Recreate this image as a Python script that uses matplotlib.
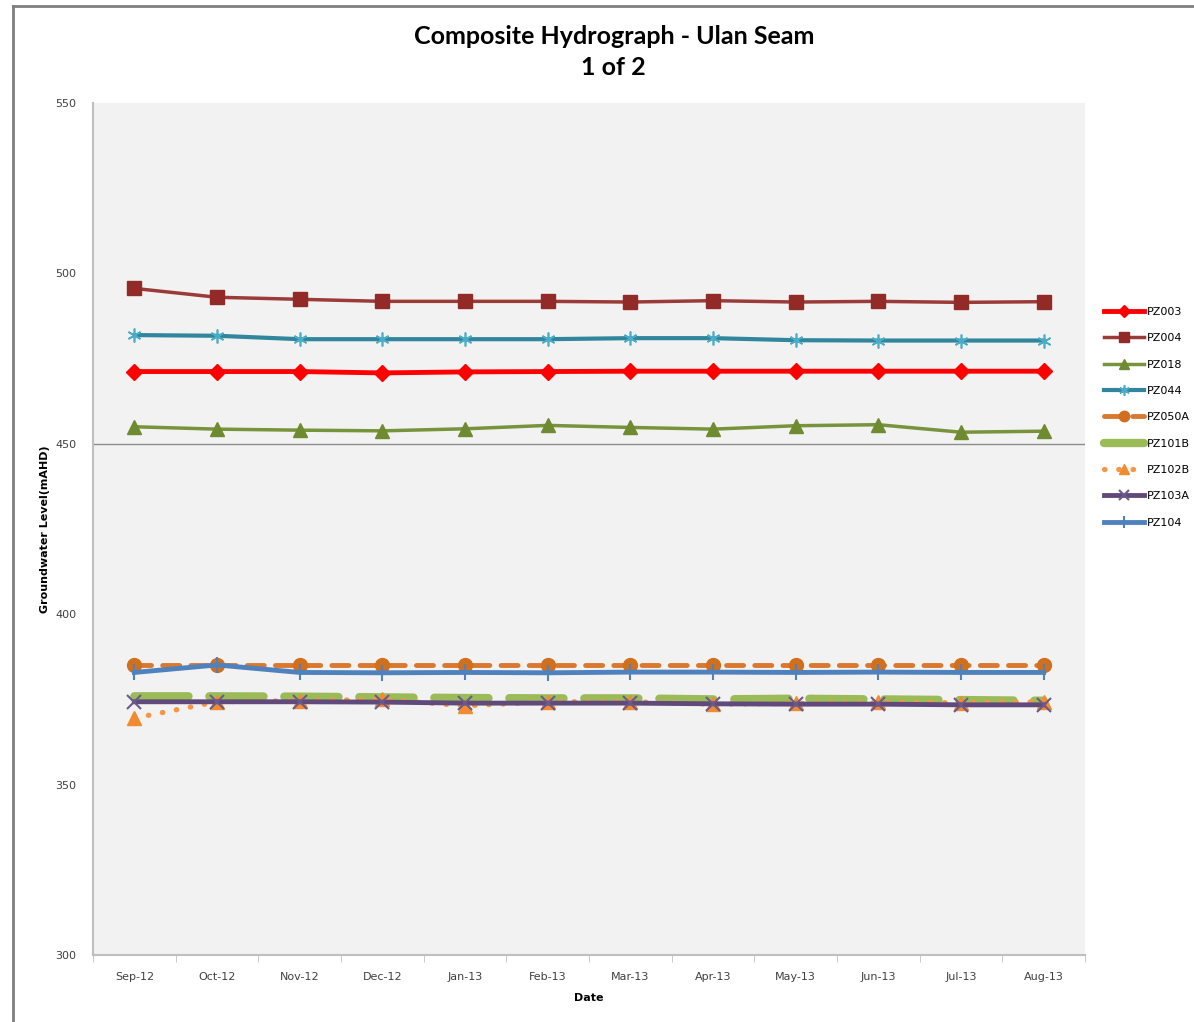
import matplotlib
matplotlib.use("Agg")
from matplotlib import pyplot as plt
from matplotlib.lines import Line2D
import numpy as np

# data
months = ["Sep-12", "Oct-12", "Nov-12", "Dec-12", "Jan-13", "Feb-13",
          "Mar-13", "Apr-13", "May-13", "Jun-13", "Jul-13", "Aug-13"]

pz003 = [471.2, 471.2, 471.2, 470.8, 471.1, 471.2, 471.3, 471.3, 471.3, 471.3, 471.3, 471.3]
pz004 = [495.6, 493.0, 492.4, 491.8, 491.8, 491.8, 491.6, 492.0, 491.6, 491.8, 491.5, 491.7]
pz018 = [455.0, 454.3, 454.0, 453.8, 454.4, 455.4, 454.8, 454.3, 455.3, 455.6, 453.4, 453.7]
pz044 = [481.9, 481.7, 480.7, 480.7, 480.7, 480.7, 481.0, 481.0, 480.4, 480.3, 480.3, 480.3]
pz050a = [385.1, 385.1, 385.1, 385.1, 385.1, 385.1, 385.1, 385.1, 385.1, 385.1, 385.1, 385.1]
pz101b = [375.9, 375.9, 375.8, 375.6, 375.4, 375.3, 375.3, 375.0, 375.2, 375.0, 374.8, 374.6]
pz102b = [369.5, 374.3, 374.6, 375.0, 373.1, 374.3, 374.3, 373.6, 373.8, 374.1, 374.0, 374.3]
pz103a = [374.3, 374.3, 374.3, 374.2, 373.9, 373.9, 373.9, 373.7, 373.6, 373.6, 373.4, 373.4]
pz104 = [382.9, 385.1, 382.9, 382.8, 382.9, 382.8, 383.0, 383.0, 382.9, 383.0, 382.9, 382.9]

y_ticks = [300, 350, 400, 450, 500, 550]

fig = plt.figure(figsize=(11.94, 10.22), dpi=100)
ax = fig.add_axes([0.0779, 0.0656, 0.8308, 0.8336])
ax.set_facecolor("#F2F2F2")

x = np.arange(len(months))

ax.axhline(450, color="#8C8C8C", lw=1.0, zorder=1)

ax.plot(x, pz003, color="#FF0000", lw=3.5, marker="D", ms=8, mec="#FF0000", label="PZ003", zorder=3)
ax.plot(x, pz004, color="#9B3B38", lw=2.5, marker="s", ms=10, mfc="#922B27", mec="#922B27", label="PZ004", zorder=3)
ax.plot(x, pz018, color="#77933C", lw=2.5, marker="^", ms=10, mfc="#6E8B32", mec="#6E8B32", label="PZ018", zorder=3)
ax.plot(x, pz044, color="#31859C", lw=3, marker=(6, 2, 0), ms=10, mew=1.2, mec="#4BACC6", label="PZ044", zorder=3)
ax.plot(x, pz050a, color="#D9782E", lw=3.5, ls=(0, (3.5, 2.3)), dash_capstyle="round",
        marker="o", ms=10, mfc="#D0701F", mec="#D0701F", label="PZ050A", zorder=3)
ax.plot(x, pz101b, color="#9BBB59", lw=6, ls=(0, (6.5, 2.5)), dash_capstyle="round",
        label="PZ101B", zorder=3)
ax.plot(x, pz102b, color="#F79646", lw=3.8, ls=(0, (0.1, 2.6)), dash_capstyle="round",
        marker="^", ms=10, mfc="#F28A2F", mec="#F28A2F", label="PZ102B", zorder=3)
ax.plot(x, pz103a, color="#604A7B", lw=3.5, marker="x", ms=10, mew=1.5, mec="#6A5A8C", label="PZ103A", zorder=3)
ax.plot(x, pz104, color="#4F81BD", lw=3.5, marker="|", ms=11, mew=1.5, mec="#4F81BD", label="PZ104", zorder=3)

ax.set_xlim(-0.5, len(months) - 0.5)
ax.set_ylim(300, 550)
ax.set_yticks(y_ticks)
ax.set_xticks(x)
ax.set_xticklabels(months)
ax.set_xticks(np.arange(-0.5, len(months)), minor=True)
ax.tick_params(axis="x", which="major", length=0, pad=12, labelsize=8, labelcolor="#404040")
ax.tick_params(axis="x", which="minor", length=5, color="#BFBFBF", direction="out")
ax.tick_params(axis="y", length=0, pad=12, labelsize=8, labelcolor="#404040")

for side in ["top", "right"]:
    ax.spines[side].set_visible(False)
for side in ["left", "bottom"]:
    ax.spines[side].set_color("#BFBFBF")
    ax.spines[side].set_linewidth(1.5)

ax.set_xlabel("Date", fontsize=8, fontweight="bold", labelpad=8)
ax.set_ylabel("Groundwater Level(mAHD)", fontsize=8, fontweight="bold", labelpad=4)

fig.text(0.514, 0.976, "Composite Hydrograph - Ulan Seam\n1 of 2", ha="center", va="top",
         fontsize=18, fontweight="bold", family="Lato", linespacing=1.45)

fig.legend(loc="upper left", bbox_to_anchor=(1104 / 1194, 1 - 307 / 1022), frameon=False,
           fontsize=8, handlelength=3.6, handletextpad=0.3, labelspacing=1.47, borderpad=0,
           borderaxespad=0, markerscale=0.75)

# outer chart border
fig.add_artist(Line2D([13 / 1194, 13 / 1194], [0, 1 - 6 / 1022], color="#7F7F7F", lw=2, transform=fig.transFigure))
fig.add_artist(Line2D([13 / 1194, 1], [1 - 6 / 1022, 1 - 6 / 1022], color="#7F7F7F", lw=2, transform=fig.transFigure))

fig.savefig("out.png", dpi=100)
